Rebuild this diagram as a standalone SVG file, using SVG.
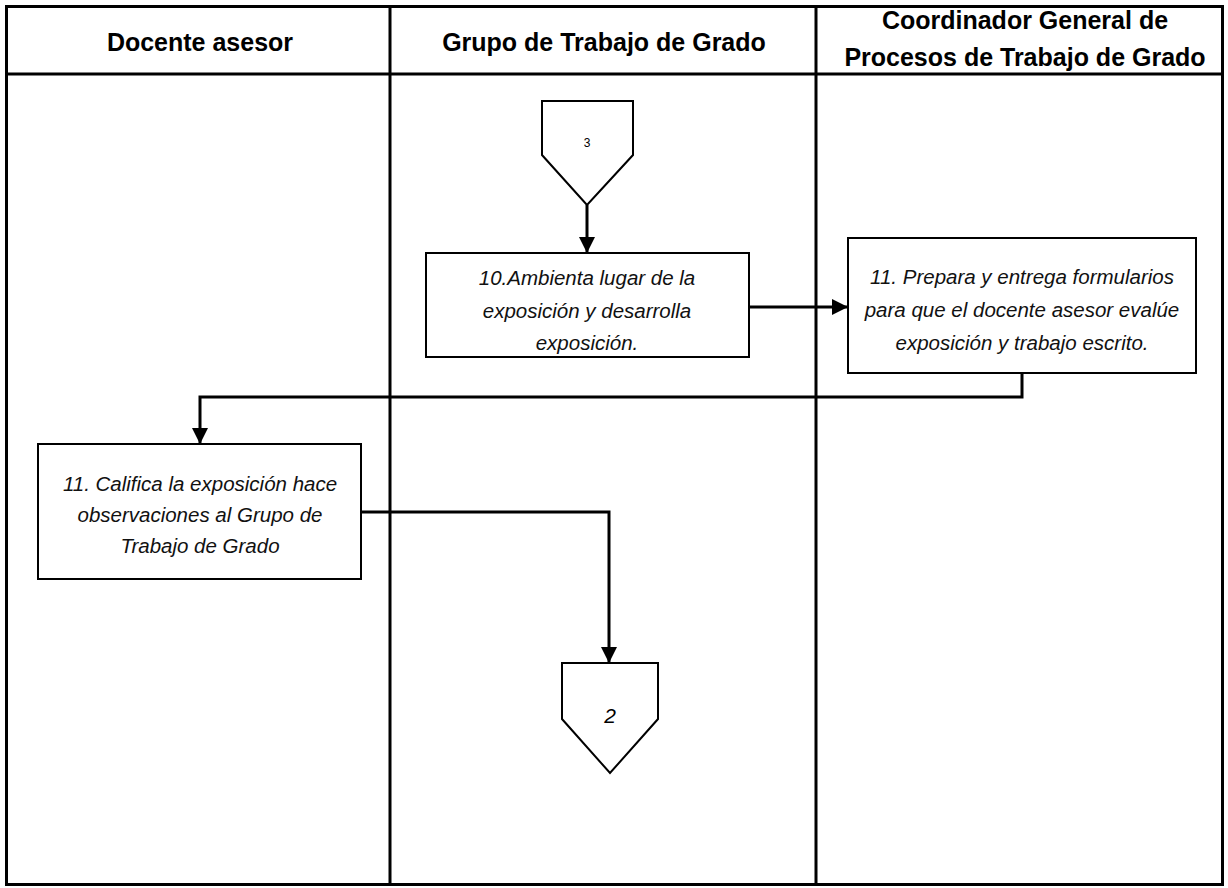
<svg xmlns="http://www.w3.org/2000/svg" width="1228" height="888" viewBox="0 0 1228 888">
  <style>
    .lane { fill: none; stroke: #000; stroke-width: 3; }
    .box { fill: #fff; stroke: #000; stroke-width: 2; }
    .head { font-family: "Liberation Sans", Arial, sans-serif; font-weight: bold; font-size: 25px; text-anchor: middle; fill: #000; }
    .txt { font-family: "Liberation Sans", Arial, sans-serif; font-style: italic; font-size: 20.5px; text-anchor: middle; fill: #111; }
    .num { font-family: "Liberation Sans", Arial, sans-serif; text-anchor: middle; fill: #000; }
    .flow { fill: none; stroke: #000; stroke-width: 3; }
  </style>
  <defs>
    <marker id="arrow" viewBox="0 0 10 10" refX="10" refY="5" markerWidth="5.5" markerHeight="5.5" markerUnits="strokeWidth" orient="auto">
      <path d="M0,0 L10,5 L0,10 Z" fill="#000"/>
    </marker>
  </defs>
  <rect width="1228" height="888" fill="#fff"/>

  <!-- swimlane frame -->
  <g id="lanes">
    <rect class="lane" x="6.5" y="6.5" width="1216" height="878"/>
    <line class="lane" x1="6.5" y1="74" x2="1222.5" y2="74"/>
    <line class="lane" x1="390" y1="6.5" x2="390" y2="884.5"/>
    <line class="lane" x1="816" y1="6.5" x2="816" y2="884.5"/>
    <text class="head" x="200" y="51">Docente asesor</text>
    <text class="head" x="604" y="51">Grupo de Trabajo de Grado</text>
    <text class="head" x="1025" y="29">Coordinador General de</text>
    <text class="head" x="1025" y="66">Procesos de Trabajo de Grado</text>
  </g>

  <!-- connectors -->
  <g id="connectors">
    <line class="flow" x1="587" y1="205" x2="587" y2="253" marker-end="url(#arrow)"/>
    <line class="flow" x1="749" y1="307" x2="848" y2="307" marker-end="url(#arrow)"/>
    <polyline class="flow" points="1022,373 1022,397 200,397 200,444" marker-end="url(#arrow)"/>
    <polyline class="flow" points="361,512 609,512 609,663" marker-end="url(#arrow)"/>
  </g>

  <!-- off-page connector 3 -->
  <g id="conn-3">
    <polygon class="box" points="542,101 633,101 633,155 587,205 542,155"/>
    <text class="num" x="587" y="147" font-size="12">3</text>
  </g>

  <!-- step 10 -->
  <g id="step-10">
    <rect class="box" x="426" y="253" width="323" height="104"/>
    <text class="txt" x="587" y="285">10.Ambienta lugar de la</text>
    <text class="txt" x="587" y="318">exposición y desarrolla</text>
    <text class="txt" x="587" y="350">exposición.</text>
  </g>

  <!-- step 11, coordinator -->
  <g id="step-11-coord">
    <rect class="box" x="848" y="238" width="348" height="135"/>
    <text class="txt" x="1022" y="284">11. Prepara y entrega formularios</text>
    <text class="txt" x="1022" y="317">para que el docente asesor evalúe</text>
    <text class="txt" x="1022" y="350">exposición y trabajo escrito.</text>
  </g>

  <!-- step 11, advisor -->
  <g id="step-11-advisor">
    <rect class="box" x="38" y="444" width="323" height="135"/>
    <text class="txt" x="200" y="491">11. Califica la exposición hace</text>
    <text class="txt" x="200" y="522">observaciones al Grupo de</text>
    <text class="txt" x="200" y="553">Trabajo de Grado</text>
  </g>

  <!-- off-page connector 2 -->
  <g id="conn-2">
    <polygon class="box" points="562,663 658,663 658,719 610,773 562,719"/>
    <text class="num" x="610" y="723" font-size="21" font-style="italic">2</text>
  </g>
</svg>
